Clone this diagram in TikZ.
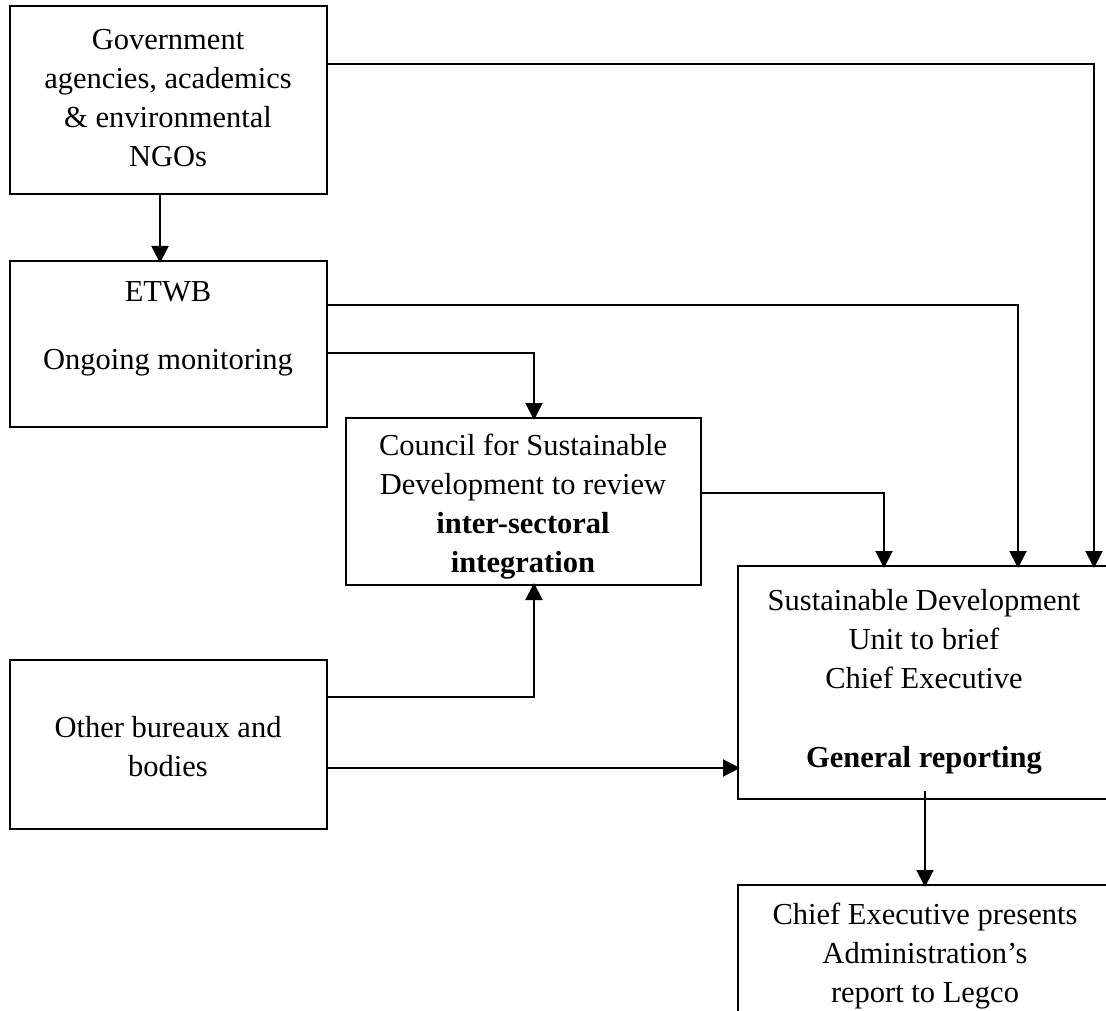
\documentclass[tikz,border=0pt]{standalone}
\usepackage{fontspec}
\setmainfont{Liberation Serif}
\usetikzlibrary{arrows.meta}
\begin{document}
\begin{tikzpicture}[x=1pt,y=-1pt,
  box/.style={draw, line width=2pt, rectangle, inner sep=0pt},
  txt/.style={align=center, inner sep=0pt, font=\fontsize{30.5}{39}\selectfont},
  conn/.style={line width=2pt, -{Triangle[length=17pt,width=17pt]}, shorten >=-2pt},
  plain/.style={line width=2pt}]
\useasboundingbox (0,0) rectangle (1106,1011);
\clip (0,0) rectangle (1106,1011);
% boxes
\draw[box] (10,6) rectangle (327,194) node[pos=0.5,inner sep=0] (gov) {};
\draw[box] (10,261) rectangle (327,427) node[pos=0.5,inner sep=0] (etwb) {};
\draw[box] (346,418) rectangle (701,585) node[pos=0.5,inner sep=0] (csd) {};
\draw[box] (10,660) rectangle (327,829) node[pos=0.5,inner sep=0] (other) {};
\draw[box] (738,566) rectangle (1130,799) node[pos=0.5,inner sep=0] (sdu) {};
\draw[box] (738,885) rectangle (1130,1040) node[pos=0.5,inner sep=0] (ce) {};
% named anchor coordinates
\coordinate (govB) at (160,194);
\coordinate (etwbT) at (160,261);
\coordinate (govR) at (327,64);
\coordinate (etwbR1) at (327,305);
\coordinate (etwbR2) at (327,353);
\coordinate (csdT) at (534,418);
\coordinate (csdB) at (534,585);
\coordinate (csdR) at (701,493);
\coordinate (sduT1) at (884,566);
\coordinate (sduT2) at (1018,566);
\coordinate (sduT3) at (1094,566);
\coordinate (sduL) at (738,768);
\coordinate (sduB) at (925,791);
\coordinate (ceT) at (925,885);
\coordinate (othR1) at (327,697);
\coordinate (othR2) at (327,768);
% texts
\node[txt] (govtext) at (168,98) {Government\\agencies, academics\\\& environmental\\NGOs};
\node[txt] (etwbtext) at (168,292) {ETWB};
\node[txt] (montext) at (168,363) {Ongoing monitoring};
\node[txt] (csdtext) at (523,507) {Council for Sustainable\\Development to review\\\textbf{inter-sectoral}\\\textbf{integration}};
\node[txt] (othertext) at (168,747) {Other bureaux and\\bodies};
\node[txt] (sdutext) at (924,639) {Sustainable Development\\Unit to brief\\Chief Executive};
\node[txt] (gentext) at (924,760) {\textbf{General reporting}};
\node[txt] (cetext) at (925,956) {Chief Executive presents\\Administration’s\\report to Legco};
% connectors
\draw[conn] (govB) -- (etwbT);
\draw[conn] (govR) -| (sduT3);
\draw[conn] (etwbR1) -| (sduT2);
\draw[conn] (etwbR2) -| (csdT);
\draw[conn] (csdR) -| (sduT1);
\draw[conn] (othR1) -| (csdB);
\draw[conn] (othR2) -- (sduL);
\draw[conn] (sduB) -- (ceT);
\end{tikzpicture}
\end{document}
